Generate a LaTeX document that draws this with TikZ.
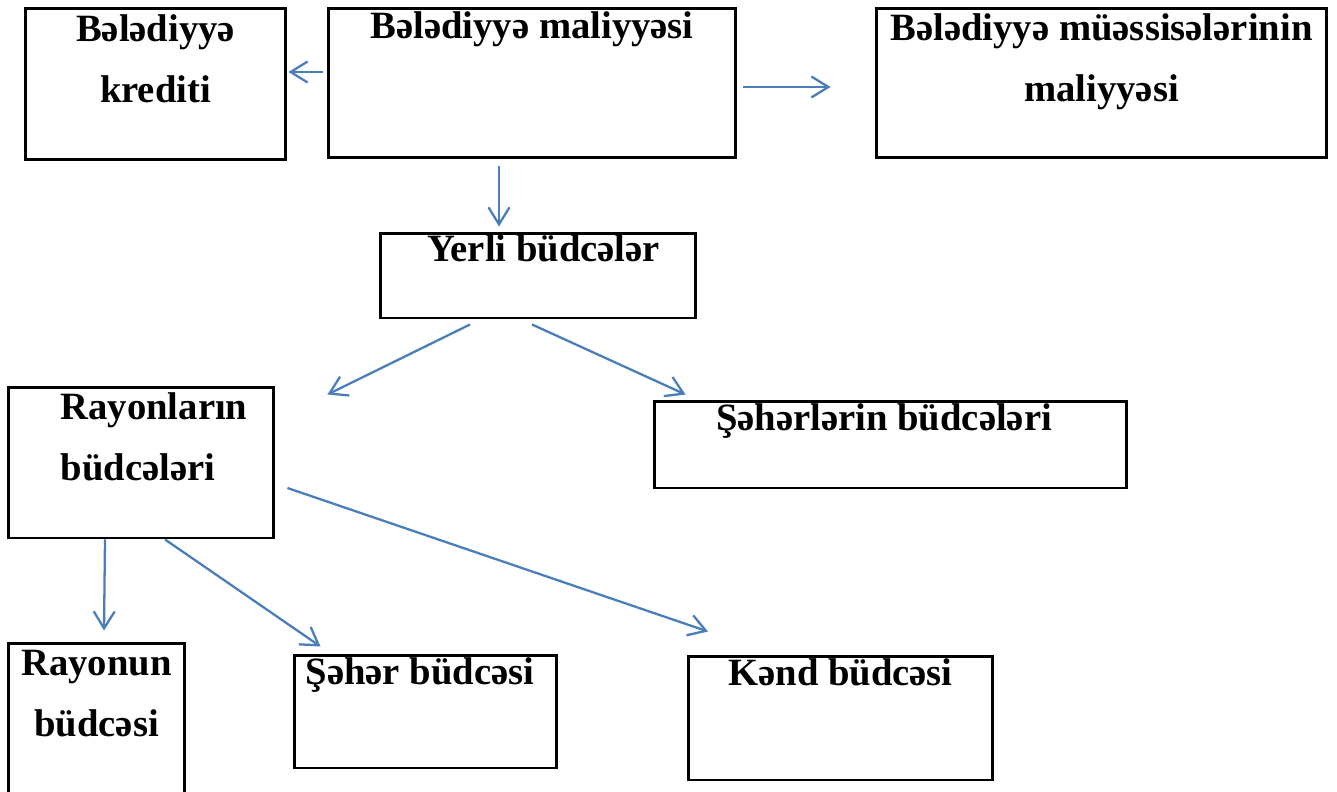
\documentclass[tikz,border=0pt]{standalone}
\usepackage{fontspec}
\setmainfont{Liberation Serif}
\usepackage{tikz}
\usetikzlibrary{arrows.meta, positioning, calc}
\definecolor{arrowblue}{RGB}{74,126,187}
\tikzset{%
	box/.style={
		draw,
		line width=1.7pt,
		inner sep=0pt
	},
	txt/.style={
		font=\fontsize{22pt}{35pt}\selectfont\bfseries,
		align=center,
		inner sep=0pt,
		anchor=base
	},
	flow/.style={
		draw=arrowblue,
		line width=1.3pt,
		-{Straight Barb[length=0.34cm, width=0.42cm, line width=1.3pt]}
	},
}

\begin{document}
\begin{tikzpicture}[x=0.02cm, y=-0.02cm]
			\useasboundingbox (0,0) rectangle (1337,791);
			
			% Top row
			\node[box, minimum width=5.22cm, minimum height=3.04cm] (kredit) at (155.5,84)
				{};
			\node[box, minimum width=8.16cm, minimum height=3.0cm] (maliyye) at (532,83)
				{};
			\node[box, minimum width=9.02cm, minimum height=3.0cm] (muessise) at (1101.5,83)
				{};
			
			% Middle
			\node[box, minimum width=6.32cm, minimum height=1.7cm] (yerli) at (538,275.5)
				{};
			\node[box, minimum width=5.32cm, minimum height=3.02cm] (rayonlar) at (141,462.5)
				{};
			\node[box, minimum width=9.46cm, minimum height=1.74cm] (seherler) at (890.5,444.5)
				{};
			
			% Bottom row
			\node[box, minimum width=3.54cm, minimum height=3.24cm] (rayonun) at (96.5,724)
				{};
			\node[box, minimum width=5.26cm, minimum height=2.26cm] (seher) at (425.5,711.5)
				{};
			\node[box, minimum width=6.1cm, minimum height=2.48cm] (kend) at (840.5,718)
				{};
			
			% Texts (base = last line)
			\node[txt] (kreditT) at ([yshift=-1.92cm]kredit.north) {Bələdiyyə\\krediti};
			\node[txt] (maliyyeT) at ([yshift=-0.64cm]maliyye.north) {Bələdiyyə maliyyəsi};
			\node[txt] (muessiseT) at ([yshift=-1.9cm]muessise.north) {Bələdiyyə müəssisələrinin\\maliyyəsi};
			\node[txt] (yerliT) at ([xshift=0.11cm, yshift=-0.6cm]yerli.north) {Yerli büdcələr};
			\node[txt, align=left] (rayonlarT) at ([xshift=0.26cm, yshift=-1.9cm]rayonlar.north) {Rayonların\\büdcələri};
			\node[txt] (seherlerT) at ([xshift=-0.13cm, yshift=-0.62cm]seherler.north) {Şəhərlərin büdcələri};
			\node[txt] (rayonunT) at ([yshift=-1.9cm]rayonun.north) {Rayonun\\büdcəsi};
			\node[txt] (seherT) at ([xshift=-0.11cm, yshift=-0.62cm]seher.north) {Şəhər büdcəsi};
			\node[txt] (kendT) at ([yshift=-0.62cm]kend.north) {Kənd büdcəsi};
			
			% Arrows
			\draw[flow] ($(maliyye.west)+(-4,-11)$) -- ($(kredit.east)+(1,-12)$);
			\draw[flow] ($(maliyye.east)+(6,4)$) -- ($(muessise.west)+(-44,4)$);
			\draw[flow] ($(maliyye.south)+(-33,7)$) -- ($(yerli.north)+(-39,-5)$);
			\draw[flow] ($(yerli.south)+(-68,5)$) -- ($(rayonlar.north east)+(52,9)$);
			\draw[flow] ($(yerli.south)+(-6,5)$) -- ($(seherler.north west)+(33,-5)$);
			\draw[flow] ($(rayonlar.south)+(-36,0)$) -- ($(rayonun.north)+(7.5,-11)$);
			\draw[flow] ($(rayonlar.south)+(24,0)$) -- ($(seher.north west)+(28,-7)$);
			\draw[flow] ($(rayonlar.east)+(12,25.5)$) -- ($(kend.north)+(-132.5,-23)$);
		\end{tikzpicture}
\end{document}
